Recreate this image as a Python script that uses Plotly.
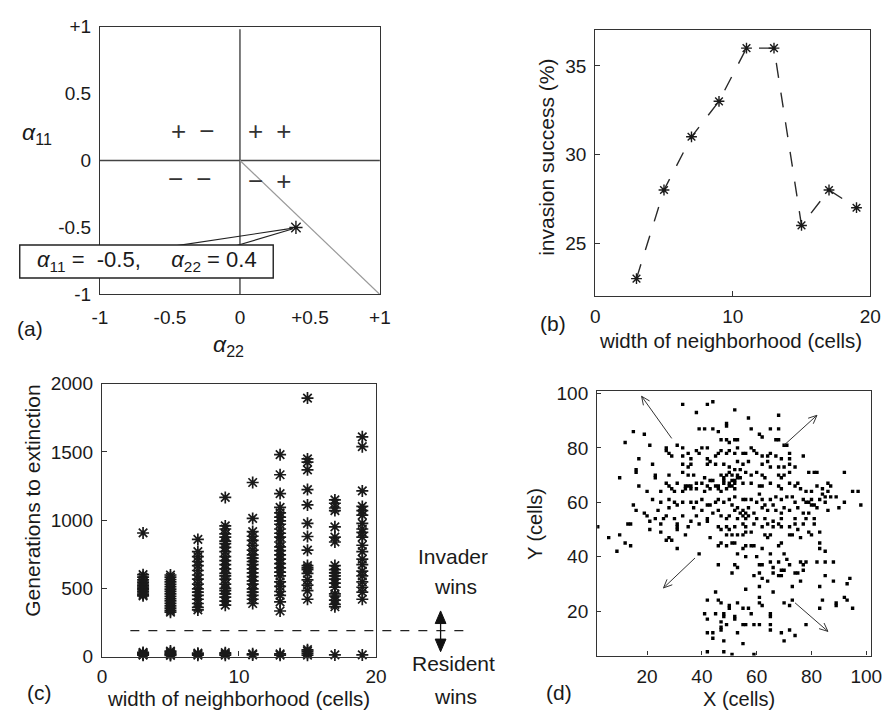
import math
import plotly.graph_objects as go

W, H = 893, 719
def fx(px): return px / W
def fy(py): return 1 - py / H

FONT = "Liberation Sans, Arial, Helvetica, sans-serif"
INK = "#1a1a1a"

# ---------------- Panel (a) data ----------------
a_axis_ticks = [-1, -0.5, 0, 0.5, 1]
a_x_ticktext = ["-1", "-0.5", "0", "+0.5", "+1"]
a_y_ticktext = ["-1", "-0.5", "0", "0.5", "+1"]
boundary_a22 = [0, 1]
boundary_a11 = [0, -1]
example_a22 = [0.4]
example_a11 = [-0.5]
quadrant_labels = ["+\u2002\u2212", "+\u2002+", "\u2212\u2002\u2212", "\u2212\u2002+"]

# ---------------- Panel (b) data ----------------
nbhd_width = [3, 5, 7, 9, 11, 13, 15, 17, 19]
invasion_success = [23, 28, 31, 33, 36, 36, 26, 28, 27]

# ---------------- Panel (c) data ----------------
gen_w3 = [906, 600, 582, 562, 545, 532, 520, 510, 500, 490, 478, 466, 455, 445, 10, 18, 25, 30, 15]
gen_w5 = [598, 582, 565, 548, 530, 512, 495, 478, 460, 442, 425, 408, 390, 372, 355, 338, 325, 8, 15, 22, 30, 40]
gen_w7 = [859, 769, 733, 697, 667, 631, 598, 567, 531, 496, 472, 448, 420, 389, 360, 342, 10, 18, 25]
gen_w9 = [1167, 958, 935, 899, 875, 847, 828, 800, 769, 733, 704, 674, 643, 610, 591, 567, 531, 500, 484, 460, 436, 406, 377, 10, 20, 28]
gen_w11 = [1276, 1013, 916, 882, 852, 816, 780, 745, 721, 697, 674, 643, 614, 586, 555, 531, 496, 472, 448, 420, 389, 12, 20]
gen_w13 = [1480, 1333, 1195, 1093, 1053, 1022, 994, 970, 935, 904, 875, 840, 804, 776, 745, 714, 681, 650, 619, 591, 548, 515, 477, 448, 401, 334, 10, 20]
gen_w15 = [1895, 1449, 1426, 1369, 1224, 1112, 977, 880, 780, 667, 650, 638, 610, 562, 524, 484, 420, 10, 25, 40, 50]
gen_w17 = [1148, 1124, 1089, 1070, 951, 875, 840, 667, 638, 614, 591, 567, 538, 508, 460, 444, 413, 382, 365, 12]
gen_w19 = [1611, 1539, 1214, 1101, 1070, 1037, 977, 935, 911, 875, 816, 769, 714, 674, 626, 591, 548, 508, 472, 420, 12]
gen_by_width = {3: gen_w3, 5: gen_w5, 7: gen_w7, 9: gen_w9, 11: gen_w11,
                13: gen_w13, 15: gen_w15, 17: gen_w17, 19: gen_w19}
win_threshold = 190

# ---------------- Panel (d) data (occupied cells, x, y) ----------------
occupied_cells = [
    (33,96),(42,96),(44,97),(38,93),(49,89),(49,88),(39,87),(41,87),(44,87),(46,86),(15,86),(19,85),
    (12,82),(21,81),(31,81),(33,80),(40,80),(42,80),(47,83),(49,83),(50,82),(27,80),(27,79),(28,78),
    (29,77),(17,76),(22,74),(16,72),(16,71),(33,77),(35,78),(36,76),(38,79),(39,78),(42,76),(43,75),
    (45,77),(46,78),(47,79),(49,78),(50,79),(33,74),(35,73),(36,74),(42,74),(45,74),(48,74),(50,73),
    (23,70),(23,69),(28,70),(33,71),(35,70),(37,70),(41,69),(43,68),(44,68),(47,70),(49,70),(50,71),
    (51,70),(10,69),(17,66),(20,64),(25,64),(27,67),(28,66),(29,65),(30,64),(31,67),(33,64),(36,65),
    (36,66),(38,65),(40,67),(42,66),(41,64),(43,65),(46,65),(47,64),(48,67),(49,65),(50,66),(15,59),
    (16,57),(22,61),(25,60),(28,61),(30,60),(31,59),(33,60),(36,60),(38,60),(40,61),(42,59),(43,59),
    (45,60),(46,61),(48,60),(50,61),(51,59),(20,55),(23,54),(26,54),(27,55),(30,54),(33,55),(36,53),
    (38,55),(42,54),(47,55),(49,54),(50,55),(13,52),
    (48,69),(48,68),(51,68),(52,68),(50,67),(45,66),(46,66),(34,66),(35,66),(34,65),(38,67),(37,58),
    (40,57),(44,56),(46,57),(28,58),(19,56),(24,57),
    (52,94),(57,91),(68,92),(58,87),(65,87),(68,87),(61,85),(62,84),(52,83),(53,83),(67,83),(68,83),
    (70,81),(71,81),(53,80),(58,80),(52,78),(55,78),(56,78),(59,79),(60,78),(62,77),(64,77),(65,78),
    (67,77),(69,76),(72,78),(72,76),(77,77),(53,75),(55,74),(57,75),(62,74),(64,75),(65,73),(68,73),
    (70,73),(72,74),(74,73),(52,72),(54,72),(56,71),(58,70),(60,71),(62,70),(63,69),(68,70),(69,69),
    (70,70),(72,71),(79,71),(81,71),(82,71),(92,71),(52,67),(55,67),(58,67),(61,66),(62,66),(65,67),
    (68,66),(69,65),(72,67),(74,66),(75,67),(76,65),(78,64),(80,64),(82,66),(84,65),(86,67),(87,66),
    (89,62),(95,64),(97,64),(98,59),(52,62),(55,61),(56,61),(58,61),(61,63),(62,61),(65,61),(67,62),
    (69,61),(71,62),(73,62),(74,60),(77,61),(79,60),(80,61),(83,61),(85,60),(92,60),(52,57),(55,57),
    (57,58),(59,56),(62,58),(64,57),(67,57),(69,56),(72,57),(75,58),(77,56),(79,56),(81,54),(86,57),
    (53,54),(56,54),(60,54),(63,54),(66,53),(69,54),(74,54),(78,54),
    (53,70),(53,69),(54,69),(51,66),(52,65),(53,58),(54,56),(55,55),(56,56),(57,55),(60,60),(63,59),
    (66,59),(70,58),(78,60),(80,59),(81,59),(82,58),(84,63),(85,62),(86,64),(90,58),(87,62),
    (2,51),(14,52),(21,53),(21,50),(25,52),(25,49),(31,52),(31,51),(35,51),(39,52),(42,53),(46,51),
    (47,50),(49,51),(50,50),(6,47),(10,48),(12,45),(14,44),(9,42),(27,46),(28,47),(29,46),(31,50),
    (34,48),(31,43),(43,47),(46,44),(47,45),(49,44),(51,45),(49,48),(51,48),(39,41),(46,37),(51,34),
    (45,27),(42,24),(46,24),(47,23),(50,22),(50,21),(41,19),(45,19),(48,19),(48,18),(42,17),(47,16),
    (49,15),(47,14),(47,13),(42,12),(44,12),(44,10),(48,9),(42,5),(48,5),(51,4),
    (52,51),(55,52),(56,51),(59,52),(62,51),(64,52),(66,51),(68,52),(69,51),(72,51),(74,52),(77,52),
    (81,52),(53,48),(55,48),(56,49),(58,49),(63,48),(64,47),(65,48),(72,48),(73,48),(75,50),(76,47),
    (79,49),(80,48),(83,49),(52,45),(55,43),(56,44),(58,44),(59,44),(62,43),(65,41),(68,44),(69,45),
    (83,45),(83,43),(85,42),(53,41),(56,40),(60,40),(70,41),(71,39),(52,37),(53,36),(61,37),(62,37),
    (65,38),(66,36),(68,38),(69,35),(70,35),(72,37),(76,38),(77,37),(78,38),(77,35),(82,38),(85,38),
    (88,38),(59,33),(61,34),(62,32),(64,31),(66,34),(68,33),(69,33),(74,34),(75,34),(76,31),(73,29),
    (85,33),(88,31),(93,30),(94,32),(56,28),(61,29),(66,27),(61,25),(83,29),(53,23),(52,18),(52,17),
    (55,21),(57,21),(58,19),(61,23),(62,22),(65,19),(65,18),(70,23),(72,22),(73,24),(84,24),(83,21),
    (89,23),(89,22),(92,25),(93,24),(95,21),(55,15),(56,15),(59,15),(61,15),(65,15),(65,13),(72,13),
    (69,12),(74,11),(78,15),(53,12),(70,9),(55,8),(59,4),
]
cell_x = [c[0] for c in occupied_cells]
cell_y = [c[1] for c in occupied_cells]
# spread arrows (tail x, tail y, head x, head y)
spread_arrows = [(29, 83.5, 18, 99), (70, 81, 82, 92), (37.5, 39.5, 26, 28.5), (74, 23, 86, 12.5)]

# ---------------- Figure ----------------
fig = go.Figure()

# (a)
fig.add_trace(go.Scatter(x=boundary_a22, y=boundary_a11, mode="lines",
                         line=dict(color="#9a9a9a", width=1.2), xaxis="x", yaxis="y",
                         cliponaxis=False))
fig.add_trace(go.Scatter(x=example_a22, y=example_a11, mode="markers",
                         marker=dict(symbol="asterisk-open", size=11, color=INK,
                                     line=dict(color=INK, width=1.4)),
                         xaxis="x", yaxis="y"))

# (b)
fig.add_trace(go.Scatter(x=nbhd_width, y=invasion_success, mode="lines+markers",
                         line=dict(color="#2a2a2a", width=1.4, dash="longdash"),
                         marker=dict(symbol="asterisk-open", size=9, color=INK,
                                     line=dict(color=INK, width=1.4)),
                         xaxis="x2", yaxis="y2"))

# (c)
cx, cy = [], []
for w, vals in gen_by_width.items():
    cx += [w] * len(vals)
    cy += vals
fig.add_trace(go.Scatter(x=cx, y=cy, mode="markers",
                         marker=dict(symbol="asterisk-open", size=10, color=INK,
                                     line=dict(color=INK, width=1.7)),
                         xaxis="x3", yaxis="y3", cliponaxis=False))

# (d)
fig.add_trace(go.Scatter(x=cell_x, y=cell_y, mode="markers",
                         marker=dict(symbol="square", size=3.4, color="#000000", line=dict(width=0)),
                         xaxis="x4", yaxis="y4"))

axis_common = dict(showline=True, linecolor="#333333", linewidth=1.3, mirror=True,
                   showgrid=False, zeroline=False, tickfont=dict(size=19, color=INK, family=FONT))

layout = dict(
    width=W, height=H, margin=dict(l=0, r=0, t=0, b=0),
    paper_bgcolor="white", plot_bgcolor="white", showlegend=False,
    font=dict(family=FONT, size=19, color=INK),
    xaxis=dict(domain=[fx(94), fx(380)], range=[-1, 1], anchor="y", tickvals=a_axis_ticks,
               ticktext=a_x_ticktext, ticks="", ticklabelstandoff=6, **axis_common),
    yaxis=dict(domain=[fy(293), fy(17)], range=[-1, 1], anchor="x", tickvals=a_axis_ticks,
               ticktext=a_y_ticktext, ticks="", ticklabelstandoff=4, **axis_common),
    xaxis2=dict(domain=[fx(600), fx(881)], range=[0, 20], anchor="y2", tickvals=[0, 10, 20],
                ticks="inside", ticklen=5, tickcolor="#333333", ticklabelstandoff=3, **axis_common),
    yaxis2=dict(domain=[fy(295), fy(21)], range=[22, 37], anchor="x2", tickvals=[25, 30, 35],
                ticks="inside", ticklen=5, tickcolor="#333333", ticklabelstandoff=4, **axis_common),
    xaxis3=dict(domain=[fx(96), fx(376)], range=[0, 20], anchor="y3", tickvals=[0, 10, 20],
                ticks="inside", ticklen=5, tickcolor="#333333", ticklabelstandoff=3, **axis_common),
    yaxis3=dict(domain=[fy(666), fy(385)], range=[0, 2000], anchor="x3",
                tickvals=[0, 500, 1000, 1500, 2000],
                ticks="inside", ticklen=5, tickcolor="#333333", ticklabelstandoff=4, **axis_common),
    xaxis4=dict(domain=[fx(602), fx(882)], range=[1.8, 101.8], anchor="y4",
                tickvals=[20, 40, 60, 80, 100],
                ticks="inside", ticklen=4, tickcolor="#333333", ticklabelstandoff=3, **axis_common),
    yaxis4=dict(domain=[fy(665), fy(392)], range=[3.6, 101.1], anchor="x4",
                tickvals=[20, 40, 60, 80, 100],
                ticks="inside", ticklen=4, tickcolor="#333333", ticklabelstandoff=4, **axis_common),
)
fig.update_layout(**layout)

def ppath(points, close=False):
    s = "M " + " L ".join(f"{fx(x):.5f},{fy(y):.5f}" for x, y in points)
    return s + (" Z" if close else "")

shapes = [
    # quadrant lines in (a)
    dict(type="line", xref="x", yref="y", x0=0, x1=0, y0=-1, y1=0.98,
         line=dict(color="#444444", width=1.4), layer="below"),
    dict(type="line", xref="x", yref="y", x0=-1, x1=1, y0=0, y1=0,
         line=dict(color="#444444", width=1.4), layer="below"),
    # callout lines from the label box to the example point
    dict(type="line", xref="x", yref="y", x0=-0.51, y0=-0.645, x1=example_a22[0] - 0.02, y1=example_a11[0] - 0.005,
         line=dict(color="#222222", width=1.1)),
    dict(type="line", xref="x", yref="y", x0=-0.077, y0=-0.652, x1=example_a22[0] - 0.02, y1=example_a11[0] - 0.01,
         line=dict(color="#222222", width=1.1)),
    # annotation box in (a)
    dict(type="rect", xref="paper", yref="paper", x0=fx(12), x1=fx(271), y0=fy(276), y1=fy(242),
         line=dict(color="#222222", width=1.4), fillcolor="white", layer="above"),
    # invader/resident threshold in (c)
    dict(type="line", xref="paper", yref="y3", x0=fx(125), x1=fx(466), y0=win_threshold, y1=win_threshold,
         line=dict(color="#222222", width=1.3, dash="dash")),
    # double-headed arrow beside (c)
    dict(type="line", xref="paper", yref="paper", x0=fx(442), x1=fx(442), y0=fy(630), y1=fy(650),
         line=dict(color="#111111", width=1.3)),
    dict(type="path", xref="paper", yref="paper", path=ppath([(442, 619), (436.5, 632), (447.5, 632)], True),
         fillcolor="#111111", line=dict(color="#111111", width=1)),
    dict(type="path", xref="paper", yref="paper", path=ppath([(442, 661), (436.5, 648), (447.5, 648)], True),
         fillcolor="#111111", line=dict(color="#111111", width=1)),
]

# spread arrows in (d): shaft + open V head (x and y scales are equal in this panel)
HEAD, HALF = 3.4, math.radians(24)
for tx, ty, hx, hy in spread_arrows:
    shapes.append(dict(type="line", xref="x4", yref="y4", x0=tx, y0=ty, x1=hx, y1=hy,
                       line=dict(color="#333333", width=1)))
    ang = math.atan2(hy - ty, hx - tx)
    w1 = (hx - HEAD * math.cos(ang - HALF), hy - HEAD * math.sin(ang - HALF))
    w2 = (hx - HEAD * math.cos(ang + HALF), hy - HEAD * math.sin(ang + HALF))
    shapes.append(dict(type="path", xref="x4", yref="y4",
                       path=f"M {w1[0]:.3f},{w1[1]:.3f} L {hx},{hy} L {w2[0]:.3f},{w2[1]:.3f}",
                       line=dict(color="#333333", width=1)))
fig.update_layout(shapes=shapes)

ann = []
def text(px, py, s, size=21, angle=0):
    ann.append(dict(x=fx(px), y=fy(py), xref="paper", yref="paper", text=s, showarrow=False,
                    xanchor="center", yanchor="middle", textangle=angle,
                    font=dict(size=size, color=INK, family=FONT)))

# (a) texts
qpos = [(-0.34, 0.22), (0.21, 0.22), (-0.36, -0.14), (0.21, -0.15)]
for lab, (qx, qy) in zip(quadrant_labels, qpos):
    ann.append(dict(x=qx, y=qy, xref="x", yref="y", text=lab, showarrow=False,
                    font=dict(size=26, color="#333333", family=FONT)))
text(30, 127, "<i>\u03b1</i><sub>11</sub>", size=23)
text(225, 346, "<i>\u03b1</i><sub>22</sub>", size=23)
text(22, 328, "(a)")
text(142, 259, "<i>\u03b1</i><sub>11</sub> = \u00a0-0.5, \u00a0\u00a0\u00a0\u00a0<i>\u03b1</i><sub>22</sub> = 0.4", size=22)

# (b) texts
text(557, 323, "(b)")
text(738, 340, "width of neighborhood (cells)", size=20.5)
text(550, 152, "invasion success (%)", angle=-90)

# (c) texts
text(32, 703, "(c)")
text(236, 709, "width of neighborhood (cells)", size=20.5)
text(25, 505, "Generations to extinction", angle=-90)
text(455, 563, "Invader")
text(457, 594, "wins")
text(455, 673, "Resident")
text(457, 707, "wins")

# (d) texts
text(563, 703, "(d)")
text(747, 710, "X (cells)", size=20)
text(538, 530, "Y (cells)", size=20, angle=-90)

fig.update_layout(annotations=ann)
fig.write_html("out.html")
